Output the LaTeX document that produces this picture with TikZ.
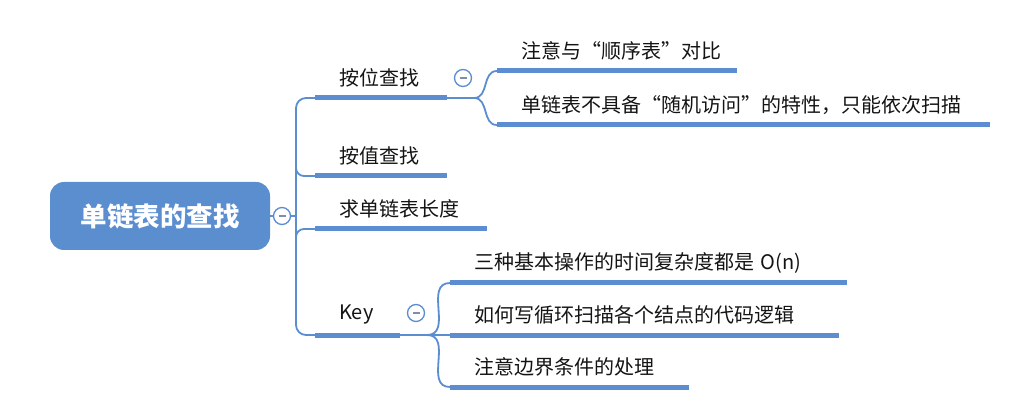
\documentclass[tikz,border=0pt]{standalone}
\usepackage{fontspec}
\setmainfont{Noto Sans CJK SC}
\definecolor{lineblue}{HTML}{5B8DD0}
\definecolor{rootblue}{HTML}{5A8ECF}
\definecolor{txt}{HTML}{141414}
\definecolor{minusgray}{HTML}{7F8FA8}
\begin{document}
\begin{tikzpicture}[x=1pt,y=-1pt,
  topic/.style={minimum height=40pt, inner ysep=0pt, inner xsep=24pt, anchor=south west, text=txt,
    align=left, text width=#1-48pt, font=\fontsize{20}{22}\selectfont},
  uline/.style={line width=5pt, lineblue},
  conn/.style={line width=1.8pt, lineblue},
  fold/.style={circle, draw=lineblue, line width=1.3pt, fill=white, minimum size=17pt, inner sep=0pt,
    path picture={\draw[minusgray, line width=1.3pt]
      ([xshift=-3.5pt]path picture bounding box.center) -- ([xshift=3.5pt]path picture bounding box.center);}},
  rootbox/.style={rounded corners=14pt, fill=rootblue, minimum width=220pt, minimum height=68pt,
    text=white, font=\fontsize{26.5}{28}\selectfont\bfseries}
]
\useasboundingbox (0,0) rectangle (1027,419);

% root
\node[rootbox] (root) at (160,216) {单链表的查找};
\node[fold] (c0) at (282,216) {};
\coordinate (tr) at (296,216);

% level 1
\node[topic=132pt] (b1) at (315,98) {\mbox{按位查找}};
\node[topic=132pt] (b2) at (315,176) {\mbox{按值查找}};
\node[topic=172pt] (b3) at (315,229) {\mbox{求单链表长度}};
\node[topic=85pt] (b4) at (315,335) {\mbox{Key}};

% level 2
\node[topic=240pt] (c11) at (497,71) {\mbox{注意与“顺序表”对比}};
\node[topic=493pt] (c12) at (497,125) {\mbox{单链表不具备“随机访问”的特性，只能依次扫描}};
\node[topic=397pt] (c41) at (450,283) {\mbox{三种基本操作的时间复杂度都是 O(n)}};
\node[topic=389pt] (c42) at (450,335) {\mbox{如何写循环扫描各个结点的代码逻辑}};
\node[topic=239pt] (c43) at (450,387) {\mbox{注意边界条件的处理}};

\coordinate (j1) at (474,98);
\coordinate (j4) at (427,335);

% connectors
\draw[conn] (root.east) -- (c0.west);
\draw[conn] (c0.east) -- (tr);
\draw[conn, rounded corners=10pt] (b1.south west) -| (tr) |- (b4.south west);
\draw[conn, rounded corners=8pt] ([yshift=14pt]tr |- b2.south west) |- (b2.south west);
\draw[conn, rounded corners=8pt] ([yshift=-14pt]tr |- b3.south west) |- (b3.south west);

\draw[conn] (b1.south east) -- (j1);
\draw[conn] (j1) to[out=0, in=180, looseness=1.1] (c11.south west);
\draw[conn] (j1) to[out=0, in=180, looseness=1.1] (c12.south west);

\draw[conn] (b4.south east) -- (j4);
\draw[conn] (j4) to[out=0, in=180, looseness=1.2] (c41.south west);
\draw[conn] (j4) -- (c42.south west);
\draw[conn] (j4) to[out=0, in=180, looseness=1.2] (c43.south west);

% underlines
\foreach \n in {b1,b2,b3,b4,c11,c12,c41,c42,c43}
  \draw[uline] (\n.south west) -- (\n.south east);

% fold markers
\node[fold] (f1) at (463,78) {};
\node[fold] (f4) at (416,313) {};
\end{tikzpicture}
\end{document}
